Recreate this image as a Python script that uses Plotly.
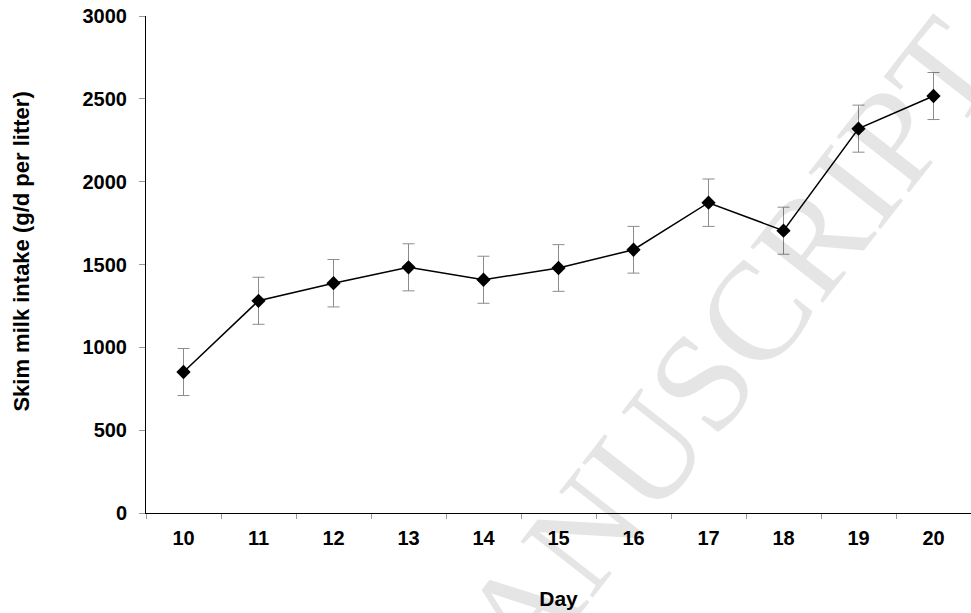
import plotly.graph_objects as go

days = ["10", "11", "12", "13", "14", "15", "16", "17", "18", "19", "20"]
intake = [851, 1281, 1387, 1483, 1408, 1479, 1589, 1873, 1704, 2320, 2517]
sem = [142, 142, 143, 142, 142, 141, 141, 143, 142, 142, 142]
y_ticks = [0, 500, 1000, 1500, 2000, 2500, 3000]

fig = go.Figure()
fig.add_trace(go.Scatter(
    x=days, y=intake, mode="lines+markers",
    line=dict(color="black", width=1.5),
    marker=dict(symbol="diamond", size=11, color="black"),
    error_y=dict(type="data", array=sem, visible=True, color="#8c8c8c",
                 thickness=1, width=6),
    showlegend=False,
))

fig.add_annotation(
    text="ACCEPTED MANUSCRIPT", xref="paper", yref="paper",
    x=0.379, y=-0.362, showarrow=False, textangle=-52,
    font=dict(family="Liberation Serif", size=140, color="rgba(0,0,0,0.1)"),
    xanchor="center", yanchor="middle",
)

fig.add_annotation(
    text="<b>Skim milk intake (g/d per litter)</b>", xref="paper", yref="paper",
    x=-0.1503, y=0.526, showarrow=False, textangle=-90,
    font=dict(family="Liberation Sans", size=22, color="black"),
    xanchor="center", yanchor="middle",
)

fig.update_layout(
    width=971, height=613,
    margin=dict(l=146, r=0, t=16, b=100),
    paper_bgcolor="white", plot_bgcolor="white",
    font=dict(family="Liberation Sans", color="black"),
    xaxis=dict(
        type="category", range=[-0.5, 10.5],
        showline=True, linecolor="black", linewidth=1,
        showgrid=False, zeroline=False,
        ticks="outside", tickson="boundaries", ticklen=5, tickcolor="#999999",
        tickfont=dict(size=20, family="Liberation Sans", color="black", weight="bold"),
        ticklabelstandoff=7,
        title=dict(text="<b>Day</b>", font=dict(size=21), standoff=43),
    ),
    yaxis=dict(
        range=[0, 3000], tickvals=y_ticks,
        showline=True, linecolor="black", linewidth=1,
        showgrid=False, zeroline=False,
        ticks="outside", ticklen=6, tickcolor="#999999",
        tickfont=dict(size=20, family="Liberation Sans", color="black", weight="bold"),
        ticklabelstandoff=8,
    ),
)

fig.write_html("out.html", config={"displayModeBar": False},
               post_script="document.body.style.margin='0px';")
